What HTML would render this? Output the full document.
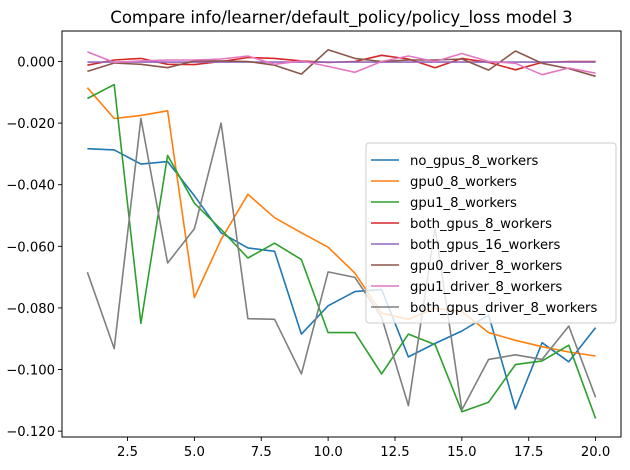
<!DOCTYPE html>
<html><head><meta charset="utf-8"><style>
html,body{margin:0;padding:0;background:#fff;}
svg{display:block;font-family:"DejaVu Sans","Liberation Sans",sans-serif;}
</style></head><body>
<svg id="chart" width="630" height="470" viewBox="0 0 630 470" xmlns="http://www.w3.org/2000/svg"></svg>
<script>
const xs = [1,2,3,4,5,6,7,8,9,10,11,12,13,14,15,16,17,18,19,20];
const seriesNames = ["no_gpus_8_workers","gpu0_8_workers","gpu1_8_workers","both_gpus_8_workers","both_gpus_16_workers","gpu0_driver_8_workers","gpu1_driver_8_workers","both_gpus_driver_8_workers"];
const seriesColors = ["#1f77b4","#ff7f0e","#2ca02c","#d62728","#9467bd","#8c564b","#e377c2","#7f7f7f"];
const noGpus8 = [-0.0283,-0.0287,-0.0333,-0.0325,-0.0436,-0.0556,-0.0605,-0.0616,-0.0885,-0.0793,-0.0747,-0.074,-0.0959,-0.0915,-0.0875,-0.0823,-0.1128,-0.0913,-0.0975,-0.0864];
const gpu0_8 = [-0.0085,-0.0185,-0.0175,-0.016,-0.0766,-0.0578,-0.0431,-0.0507,-0.0556,-0.0603,-0.0687,-0.0817,-0.0837,-0.0801,-0.0812,-0.088,-0.0905,-0.0926,-0.0943,-0.0956];
const gpu1_8 = [-0.012,-0.0075,-0.085,-0.0305,-0.046,-0.0545,-0.0638,-0.059,-0.0643,-0.088,-0.088,-0.1014,-0.0885,-0.0919,-0.1137,-0.1106,-0.0984,-0.0972,-0.0921,-0.1159];
const both8 = [-0.0012,0.0005,0.001,-0.0009,-0.001,0,0.0013,0.001,0.0002,-0.0003,0,0.002,0.0008,-0.002,0.001,-0.0003,-0.0027,-0.0003,0,0];
const both16 = [-0.0002,-0.0002,-0.0002,-0.0002,-0.0002,-0.0002,-0.0002,-0.0002,-0.0002,-0.0002,-0.0002,-0.0002,-0.0002,-0.0002,-0.0002,-0.0002,-0.0002,-0.0002,-0.0002,-0.0002];
const gpu0Driver = [-0.0032,-0.0005,-0.0009,-0.002,0.0002,0.0002,0,-0.0012,-0.0041,0.0038,0.001,0,0.0005,0.0005,0.0008,-0.0028,0.0034,-0.0006,-0.0023,-0.0048];
const gpu1Driver = [0.0031,-0.0003,0.0002,0.0005,0.0005,0.0008,0.0018,-0.0009,0.0002,-0.0016,-0.0035,0,0.0018,0,0.0026,0,-0.0006,-0.0043,-0.0021,-0.0038];
const bothDriver = [-0.0684,-0.0932,-0.0185,-0.0654,-0.0543,-0.020,-0.0835,-0.0837,-0.1014,-0.0683,-0.0701,-0.083,-0.1117,-0.054,-0.1131,-0.0967,-0.0952,-0.0967,-0.0859,-0.109];
const seriesValues = [noGpus8,gpu0_8,gpu1_8,both8,both16,gpu0Driver,gpu1Driver,bothDriver];
const xTicks = [2.5,5,7.5,10,12.5,15,17.5,20];
const xTickLabels = ["2.5","5.0","7.5","10.0","12.5","15.0","17.5","20.0"];
const yTicks = [0,-0.02,-0.04,-0.06,-0.08,-0.1,-0.12];
const yTickLabels = ["0.000","−0.020","−0.040","−0.060","−0.080","−0.100","−0.120"];

const L=62,R=621,T=31,B=437;
const xMin=0.05,xMax=20.95,yMin=-0.1219,yMax=0.0099;
const sx=v=>L+(v-xMin)/(xMax-xMin)*(R-L);
const sy=v=>B-(v-yMin)/(yMax-yMin)*(B-T);
const NS="http://www.w3.org/2000/svg";
const svg=document.getElementById('chart');
function mk(tag,attrs,parent){const e=document.createElementNS(NS,tag);for(const k in attrs)e.setAttribute(k,attrs[k]);(parent||svg).appendChild(e);return e;}

const title=mk('text',{x:(L+R)/2,y:23,'text-anchor':'middle','font-size':'16.5',fill:'#000'});
title.textContent="Compare info/learner/default_policy/policy_loss model 3";



const xAxis=mk('g',{});


xTicks.forEach((t,i)=>{
  mk('line',{x1:sx(t),x2:sx(t),y1:B,y2:B+4,stroke:'#000','stroke-width':0.9},xAxis);
  const tx=mk('text',{x:sx(t),y:B+19,'text-anchor':'middle','font-size':'13.2',fill:'#000'},xAxis);
  tx.textContent=xTickLabels[i];
  
  
});
const yAxis=mk('g',{});


yTicks.forEach((t,i)=>{
  mk('line',{x1:L-4,x2:L,y1:sy(t),y2:sy(t),stroke:'#000','stroke-width':0.9},yAxis);
  const tx=mk('text',{x:L-7,y:sy(t)+5,'text-anchor':'end','font-size':'13.2',fill:'#000'},yAxis);
  tx.textContent=yTickLabels[i];
  
  
});

seriesValues.forEach((vals,si)=>{
  const p=mk('polyline',{points:vals.map((v,i)=>sx(xs[i]).toFixed(1)+','+sy(v).toFixed(1)).join(' '),fill:'none',stroke:seriesColors[si],'stroke-width':1.6,'stroke-linejoin':'round'});
  
  
});

mk('rect',{x:L,y:T,width:R-L,height:B-T,fill:'none',stroke:'#000','stroke-width':1});

const lg=mk('g',{});


mk('rect',{x:366,y:143,width:250,height:180,rx:3,fill:'rgba(255,255,255,0.8)',stroke:'#cccccc','stroke-width':1},lg);
seriesNames.forEach((n,i)=>{
  const y=160+i*21;
  const g=mk('g',{},lg);
  
  
  mk('line',{x1:371,x2:399,y1:y,y2:y,stroke:seriesColors[i],'stroke-width':1.6},g);
  const t=mk('text',{x:410,y:y+5,'font-size':'13.2',fill:'#000'},g);
  t.textContent=n;
});
</script>
</body></html>
